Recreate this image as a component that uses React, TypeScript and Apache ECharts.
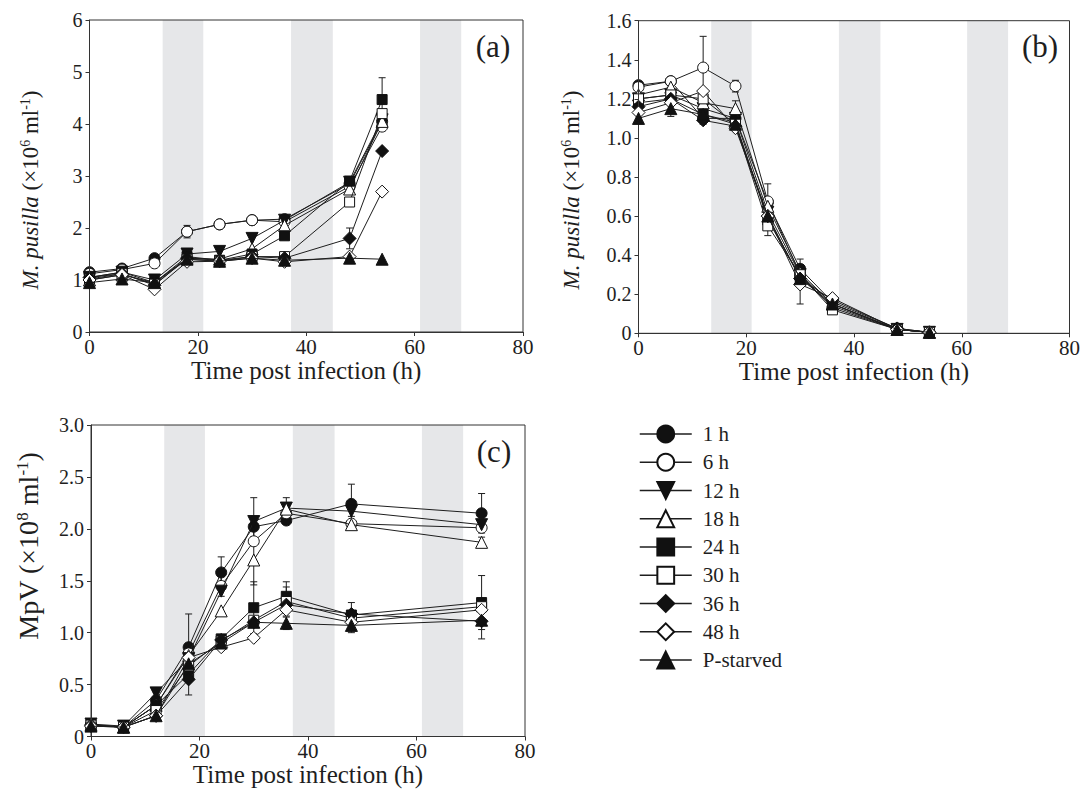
import React, { useEffect, useRef } from "react";
import * as echarts from "echarts";

// ---------- data ----------
const TIMES_AB = [0, 6, 12, 18, 24, 30, 36, 48, 54];
const TIMES_C = [0, 6, 12, 18, 24, 30, 36, 48, 72];
const SERIES_NAMES = ["1 h", "6 h", "12 h", "18 h", "24 h", "30 h", "36 h", "48 h", "P-starved"];
const DARK_BANDS = [
  [13.5, 21],
  [37.2, 44.9],
  [61, 68.6],
];
const X_TICKS = [0, 20, 40, 60, 80];

// Panel (a): M. pusilla (x10^6 ml^-1)
const A_1H = [1.15, 1.22, 1.42, 1.93, 2.07, 2.15, 2.17, 2.85, 4.05];
const A_6H = [1.12, 1.2, 1.32, 1.93, 2.07, 2.15, 2.12, 2.8, 3.95];
const A_12H = [1.05, 1.15, 1.0, 1.5, 1.55, 1.8, 2.15, 2.88, 4.08];
const A_18H = [1.0, 1.1, 0.95, 1.42, 1.4, 1.6, 2.05, 2.75, 4.05];
const A_24H = [1.05, 1.15, 0.95, 1.45, 1.38, 1.5, 1.85, 2.9, 4.47];
const A_30H = [1.02, 1.12, 0.92, 1.4, 1.36, 1.45, 1.45, 2.5, 4.2];
const A_36H = [1.05, 1.12, 0.9, 1.42, 1.38, 1.45, 1.42, 1.8, 3.48];
const A_48H = [1.0, 1.1, 0.82, 1.35, 1.36, 1.42, 1.35, 1.45, 2.7];
const A_PS = [0.95, 1.02, 0.95, 1.4, 1.36, 1.42, 1.38, 1.42, 1.4];
// [series index, time index, +/- error]
const A_ERRORS = [
  [1, 3, 0.12],
  [4, 8, 0.42],
  [6, 7, 0.2],
  [0, 7, 0.08],
  [2, 8, 0.1],
  [1, 5, 0.06],
  [0, 2, 0.06],
];

// Panel (b): M. pusilla (x10^6 ml^-1)
const B_1H = [1.27, 1.29, 1.1, 1.1, 0.67, 0.33, 0.16, 0.025, 0.005];
const B_6H = [1.26, 1.29, 1.36, 1.265, 0.675, 0.3, 0.13, 0.02, 0.005];
const B_12H = [1.2, 1.22, 1.15, 1.1, 0.62, 0.3, 0.15, 0.02, 0.005];
const B_18H = [1.22, 1.26, 1.18, 1.15, 0.65, 0.31, 0.15, 0.02, 0.005];
const B_24H = [1.18, 1.2, 1.12, 1.08, 0.58, 0.29, 0.14, 0.02, 0.005];
const B_30H = [1.2, 1.22, 1.2, 1.07, 0.55, 0.3, 0.12, 0.02, 0.005];
const B_36H = [1.16, 1.2, 1.09, 1.06, 0.6, 0.28, 0.17, 0.025, 0.005];
const B_48H = [1.13, 1.18, 1.24, 1.05, 0.6, 0.25, 0.18, 0.02, 0.005];
const B_PS = [1.1, 1.15, 1.12, 1.07, 0.6, 0.28, 0.15, 0.02, 0.005];
const B_ERRORS = [
  [1, 2, 0.16],
  [1, 4, 0.09],
  [7, 5, 0.1],
  [0, 5, 0.05],
  [1, 3, 0.03],
  [8, 1, 0.04],
  [4, 2, 0.05],
  [5, 4, 0.05],
  [3, 3, 0.04],
];

// Panel (c): MpV (x10^8 ml^-1)
const C_1H = [0.11, 0.09, 0.35, 0.86, 1.58, 2.02, 2.08, 2.24, 2.15];
const C_6H = [0.11, 0.09, 0.3, 0.8, 1.45, 1.88, 2.15, 2.05, 2.01];
const C_12H = [0.12, 0.1, 0.42, 0.75, 1.4, 2.07, 2.2, 2.17, 2.04];
const C_18H = [0.11, 0.09, 0.3, 0.78, 1.21, 1.7, 2.19, 2.04, 1.87];
const C_24H = [0.11, 0.09, 0.3, 0.6, 0.94, 1.24, 1.35, 1.17, 1.29];
const C_30H = [0.11, 0.09, 0.25, 0.68, 0.92, 1.12, 1.3, 1.14, 1.25];
const C_36H = [0.11, 0.09, 0.2, 0.55, 0.93, 1.1, 1.27, 1.18, 1.11];
const C_48H = [0.1, 0.09, 0.2, 0.76, 0.86, 0.95, 1.22, 1.1, 1.22];
const C_PS = [0.1, 0.09, 0.2, 0.7, 0.9, 1.1, 1.09, 1.07, 1.12];
const C_ERRORS = [
  [0, 3, 0.32],
  [0, 4, 0.15],
  [0, 5, 0.1],
  [0, 7, 0.19],
  [0, 8, 0.19],
  [1, 5, 0.42],
  [4, 5, 0.25],
  [4, 8, 0.26],
  [8, 8, 0.18],
  [5, 6, 0.14],
  [2, 6, 0.1],
  [2, 7, 0.05],
  [3, 8, 0.05],
  [4, 6, 0.14],
  [4, 7, 0.12],
  [6, 3, 0.15],
  [1, 4, 0.1],
  [8, 6, 0.06],
  [8, 7, 0.07],
];

// ---------- styling ----------
const FONT = "Liberation Serif";
const INK = "#1e1e1e";
const BAND = "#e6e7e9";

const MARKERS = [
  { symbol: "circle", filled: true, size: 11, rotate: 0 },
  { symbol: "circle", filled: false, size: 11, rotate: 0 },
  { symbol: "triangle", filled: true, size: 12, rotate: 180 },
  { symbol: "triangle", filled: false, size: 12, rotate: 0 },
  { symbol: "rect", filled: true, size: 10, rotate: 0 },
  { symbol: "rect", filled: false, size: 10, rotate: 0 },
  { symbol: "diamond", filled: true, size: 13, rotate: 0 },
  { symbol: "diamond", filled: false, size: 13, rotate: 0 },
  { symbol: "triangle", filled: true, size: 12, rotate: 0 },
];

const PANELS = [
  {
    times: TIMES_AB,
    values: [A_1H, A_6H, A_12H, A_18H, A_24H, A_30H, A_36H, A_48H, A_PS],
    errors: A_ERRORS,
    grid: { left: 89.5, top: 20, width: 433.5, height: 312 },
    yMax: 6,
    yInterval: 1,
    decimals: 0,
  },
  {
    times: TIMES_AB,
    values: [B_1H, B_6H, B_12H, B_18H, B_24H, B_30H, B_36H, B_48H, B_PS],
    errors: B_ERRORS,
    grid: { left: 638.5, top: 20.7, width: 433.5, height: 312.6 },
    yMax: 1.6,
    yInterval: 0.2,
    decimals: 1,
  },
  {
    times: TIMES_C,
    values: [C_1H, C_6H, C_12H, C_18H, C_24H, C_30H, C_36H, C_48H, C_PS],
    errors: C_ERRORS,
    grid: { left: 91, top: 425, width: 434, height: 311.5 },
    yMax: 3,
    yInterval: 0.5,
    decimals: 1,
  },
];

function buildOption() {
  const grids: any[] = [];
  const xAxes: any[] = [];
  const yAxes: any[] = [];
  const series: any[] = [];

  PANELS.forEach((p, pi) => {
    grids.push({
      ...p.grid,
      show: true,
      z: 10,
      borderColor: "#333",
      borderWidth: 1,
      backgroundColor: "transparent",
      containLabel: false,
    });
    xAxes.push({
      type: "value",
      gridIndex: pi,
      min: 0,
      max: 80,
      interval: 20,
      z: 10,
      name: "Time post infection (h)",
      nameLocation: "middle",
      nameGap: pi === 2 ? 21.5 : 20,
      nameTextStyle: { fontFamily: FONT, fontSize: 25, color: INK, verticalAlign: "top" },
      axisLine: { show: true, lineStyle: { color: "#333", width: 1 } },
      axisTick: { show: true, inside: false, length: 4, lineStyle: { color: "#333" } },
      axisLabel: {
        margin: 4,
        fontFamily: FONT,
        fontSize: 21,
        color: INK,
        formatter: (v: number) => (X_TICKS.includes(v) ? String(v) : ""),
      },
      splitLine: { show: false },
    });
    yAxes.push({
      type: "value",
      gridIndex: pi,
      min: 0,
      max: p.yMax,
      interval: p.yInterval,
      z: 10,
      axisLine: { show: true, lineStyle: { color: "#333", width: 1 } },
      axisTick: { show: true, inside: false, length: 4, lineStyle: { color: "#333" } },
      axisLabel: {
        margin: 7,
        fontFamily: FONT,
        fontSize: 20,
        color: INK,
        formatter: (v: number) => (v === 0 ? "0" : v.toFixed(p.decimals)),
      },
      splitLine: { show: false },
    });

    // shaded dark periods
    series.push({
      type: "custom",
      xAxisIndex: pi,
      yAxisIndex: pi,
      z: 1,
      silent: true,
      encode: { x: [0, 1] },
      data: DARK_BANDS.map((b) => [b[0], b[1]]),
      renderItem: (params: any, api: any) => {
        const p0 = api.coord([api.value(0), p.yMax]);
        const p1 = api.coord([api.value(1), 0]);
        return {
          type: "rect",
          shape: { x: p0[0], y: p0[1], width: p1[0] - p0[0], height: p1[1] - p0[1] },
          style: { fill: BAND },
        };
      },
    });

    // error bars
    series.push({
      type: "custom",
      xAxisIndex: pi,
      yAxisIndex: pi,
      z: 2,
      silent: true,
      encode: { x: 0, y: 1 },
      data: p.errors.map(([si, ti, e]) => [p.times[ti], p.values[si][ti], e]),
      renderItem: (params: any, api: any) => {
        const x = api.value(0);
        const y = api.value(1);
        const e = api.value(2);
        const top = api.coord([x, y + e]);
        const bot = api.coord([x, Math.max(0, y - e)]);
        const hw = 3.5;
        const st = { stroke: INK, lineWidth: 1 };
        return {
          type: "group",
          children: [
            { type: "line", shape: { x1: top[0], y1: top[1], x2: bot[0], y2: bot[1] }, style: st },
            { type: "line", shape: { x1: top[0] - hw, y1: top[1], x2: top[0] + hw, y2: top[1] }, style: st },
            { type: "line", shape: { x1: bot[0] - hw, y1: bot[1], x2: bot[0] + hw, y2: bot[1] }, style: st },
          ],
        };
      },
    });

    SERIES_NAMES.forEach((name, si) => {
      const m = MARKERS[si];
      series.push({
        name,
        type: "line",
        xAxisIndex: pi,
        yAxisIndex: pi,
        z: 3 + si,
        data: p.times.map((t, ti) => [t, p.values[si][ti]]),
        symbol: m.symbol,
        symbolSize: m.size,
        symbolRotate: m.rotate,
        showAllSymbol: true,
        lineStyle: { color: INK, width: 1 },
        itemStyle: { color: m.filled ? "#111" : "#fff", borderColor: "#111", borderWidth: 1 },
        emphasis: { disabled: true },
      });
    });
  });

  const panelLabel = (text: string, x: number, y: number) => ({
    type: "text",
    x,
    y,
    style: {
      text,
      font: `31px ${FONT}`,
      fontFamily: FONT,
      fontSize: 31,
      fill: INK,
      align: "center",
      verticalAlign: "middle",
    },
    z: 20,
  });

  const yName = (text: string, x: number, y: number, size: number) => {
    const sup = Math.round(size * 0.6);
    return {
      type: "text",
      x,
      y,
      rotation: Math.PI / 2,
      style: {
        text,
        font: `${size}px ${FONT}`,
        fontFamily: FONT,
        fontSize: size,
        fill: INK,
        align: "center",
        verticalAlign: "middle",
        rich: {
          i: { font: `italic ${size}px ${FONT}`, fontFamily: FONT, fontSize: size, fontStyle: "italic", fill: INK },
          n: { font: `${size}px ${FONT}`, fontFamily: FONT, fontSize: size, fill: INK },
          s: { font: `${sup}px ${FONT}`, fontFamily: FONT, fontSize: sup, fill: INK, verticalAlign: "top" },
        },
      },
      z: 20,
    };
  };

  return {
    animation: false,
    backgroundColor: "#fff",
    textStyle: { fontFamily: FONT },
    grid: grids,
    xAxis: xAxes,
    yAxis: yAxes,
    legend: {
      data: SERIES_NAMES,
      orient: "vertical",
      left: 639,
      top: 423.5,
      itemWidth: 52,
      itemHeight: 21,
      itemGap: 7.25,
      padding: 0,
      selectedMode: false,
      lineStyle: { width: 1.5 },
      textStyle: { fontFamily: FONT, fontSize: 21, color: INK, padding: [0, 0, 0, 6] },
    },
    graphic: [
      panelLabel("(a)", 493, 46),
      panelLabel("(b)", 1040, 46),
      panelLabel("(c)", 494, 451),
      yName("{i|M. pusilla}{n| (×10}{s|6}{n| ml}{s|-1}{n|)}", 30, 190, 23),
      yName("{i|M. pusilla}{n| (×10}{s|6}{n| ml}{s|-1}{n|)}", 571, 190, 23),
      yName("{n|MpV (×10}{s|8}{n| ml}{s|-1}{n|)}", 28, 546, 28),
    ],
    series,
  };
}

export default function App() {
  const ref = useRef<HTMLDivElement>(null);
  useEffect(() => {
    if (!ref.current) return;
    const chart = echarts.init(ref.current, undefined, { renderer: "svg" });
    chart.setOption(buildOption() as any);
    return () => chart.dispose();
  }, []);
  return (
    <div
      ref={ref}
      style={{ position: "absolute", left: 0, top: 0, width: 1083, height: 805, background: "#fff" }}
    />
  );
}
